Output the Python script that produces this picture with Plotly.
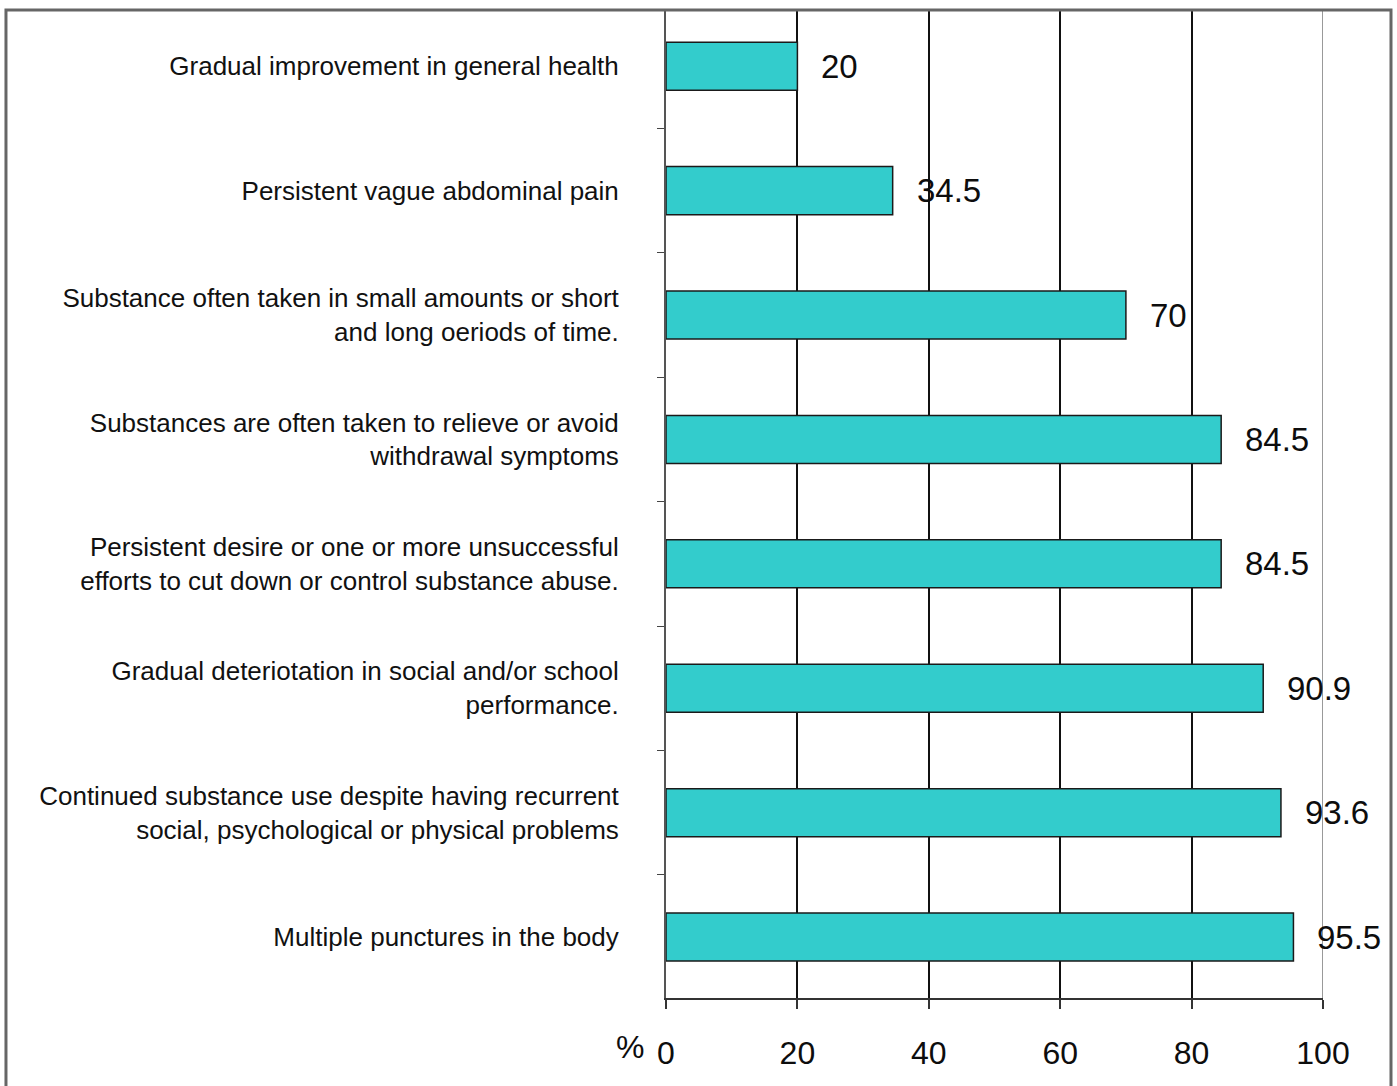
import plotly.graph_objects as go

# data, listed top to bottom as in the chart
labels = [
    "Gradual improvement in general health",
    "Persistent vague abdominal pain",
    "Substance often taken in small amounts or short<br>and long oeriods of time.",
    "Substances are often taken to relieve or avoid<br>withdrawal symptoms",
    "Persistent desire or one or more unsuccessful<br>efforts to cut down or control substance abuse.",
    "Gradual deteriotation in social and/or school<br>performance.",
    "Continued substance use despite having recurrent<br>social, psychological or physical problems",
    "Multiple punctures in the body",
]
values = [20, 34.5, 70, 84.5, 84.5, 90.9, 93.6, 95.5]
x_ticks = [0, 20, 40, 60, 80, 100]

_TEAL = "#33CCCC"
_DARK = "#1a1a1a"
_FONT = "Liberation Sans, Arial, sans-serif"

# plotly stacks categories bottom-up, so reverse
cats = labels[::-1]
vals = values[::-1]

fig = go.Figure(go.Bar(
    y=cats, x=vals, orientation="h",
    marker=dict(color=_TEAL, line=dict(color=_DARK, width=1.5)),
    width=0.386,
    showlegend=False,
))

for c, v in zip(cats, vals):
    fig.add_annotation(
        x=v, y=c, text=f"{v:g}", showarrow=False,
        xanchor="left", xshift=22,
        font=dict(family=_FONT, size=33, color="#0d0d0d"),
    )

fig.add_annotation(
    xref="paper", yref="paper", x=-0.055, y=-0.05, text="%",
    showarrow=False, xanchor="center", yanchor="middle",
    font=dict(family=_FONT, size=32, color="#0d0d0d"),
)

# grey line at 100 and the outer frame
fig.add_shape(type="line", xref="x", yref="paper", x0=100, x1=100, y0=0, y1=1,
              line=dict(color="#999", width=2), layer="below")
fig.add_shape(type="rect", xref="paper", yref="paper",
              x0=-1.0046, x1=1.1035, y0=-0.3, y1=1,
              line=dict(color="#666", width=3))

fig.update_layout(
    width=1397, height=1086,
    paper_bgcolor="white", plot_bgcolor="white",
    margin=dict(l=666, r=74, t=10, b=88),
    xaxis=dict(
        range=[0, 100], tickvals=x_ticks,
        showgrid=True, gridcolor="#111", gridwidth=2,
        showline=True, linecolor="#333", linewidth=2,
        ticks="outside", ticklen=9, tickcolor="#333", tickwidth=1.5,
        tickfont=dict(family=_FONT, size=32, color="#0d0d0d"),
        ticklabelstandoff=17, zeroline=False,
    ),
    yaxis=dict(
        type="category", range=[-0.49, 7.452],
        tickson="boundaries", ticks="outside", ticklen=7, tickcolor="#444",
        showline=True, linecolor="#555", linewidth=2,
        showgrid=False,
        tickfont=dict(family=_FONT, size=26, color="#111"),
        ticklabelstandoff=40,
    ),
    bargap=0.6,
)

fig.write_html("out.html", config={"displayModeBar": False},
               post_script="document.body.style.margin='0';")
